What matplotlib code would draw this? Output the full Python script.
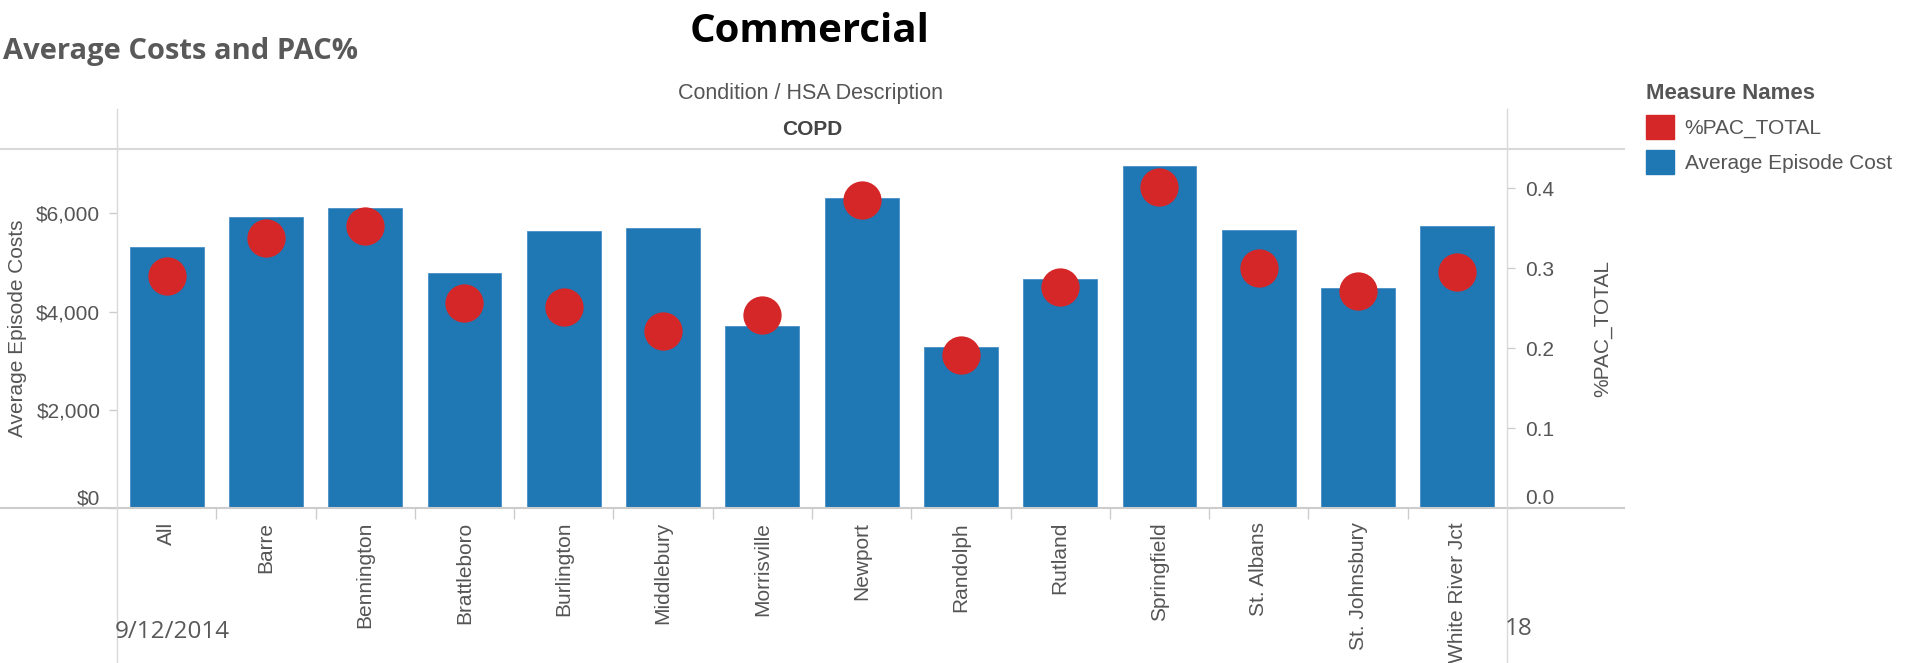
import numpy as np
import matplotlib
matplotlib.use('Agg')
import matplotlib.pyplot as plt
from matplotlib.lines import Line2D
from matplotlib.patches import Patch

plt.rcParams['font.family'] = ['Liberation Sans', 'DejaVu Sans']

# data
categories = ['All', 'Barre', 'Bennington', 'Brattleboro', 'Burlington', 'Middlebury',
              'Morrisville', 'Newport', 'Randolph', 'Rutland', 'Springfield',
              'St. Albans', 'St. Johnsbury', 'White River Jct']
avg_cost = [5305, 5918, 6116, 4792, 5639, 5708, 3713, 6311, 3272, 4670, 6956, 5668, 4479, 5749]
pac_total = [0.290, 0.338, 0.353, 0.256, 0.251, 0.221, 0.241, 0.385, 0.191, 0.277,
             0.402, 0.300, 0.272, 0.295]
cost_ticks = [0, 2000, 4000, 6000]
cost_tick_labels = ['$0', '$2,000', '$4,000', '$6,000']
pac_ticks = [0.0, 0.1, 0.2, 0.3, 0.4]
measure_names = ['%PAC_TOTAL', 'Average Episode Cost']

blue = '#1f77b4'
red = '#d62728'
grey_txt = '#555555'
line_c = '#d9d9d9'

W, H = 1915, 663
def fx(px):
    return px / W
def fy(py):
    return 1 - py / H

fig = plt.figure(figsize=(W / 100, H / 100), dpi=100)

ax = fig.add_axes([fx(117), fy(508), fx(1507) - fx(117), fy(149) - fy(508)])
x = np.arange(len(categories))
ax.bar(x, avg_cost, width=0.745, color=blue, edgecolor='#4a90c8', linewidth=0.6, zorder=2)
ax.set_xlim(-0.5, len(categories) - 0.5)
ax.set_ylim(0, 7310)
ax.set_yticks(cost_ticks)
ax.set_yticklabels(cost_tick_labels)
ax.set_xticks(x)
ax.set_xticklabels(categories, rotation=90, va='top', ha='center')
ax.set_xticks(np.arange(0.5, len(categories) - 0.5, 1), minor=True)
ax.tick_params(axis='y', length=6, color='#cccccc', width=1, labelsize=15,
               labelcolor=grey_txt, pad=6)
ax.tick_params(axis='x', which='major', length=0, pad=10, labelsize=15, labelcolor=grey_txt)
ax.tick_params(axis='x', which='minor', length=8, color='#cccccc', width=1)
ax.set_ylabel('Average Episode Costs', fontsize=15, color=grey_txt)
ax.yaxis.set_label_coords((18 - 117) / 1390, 0.5)
ax.yaxis.label.set_va('center')
for s in ax.spines.values():
    s.set_visible(False)
ax.get_yticklabels()[0].set_va('bottom')

ax2 = ax.twinx()
ax2.scatter(x, pac_total, s=760, color=red, linewidths=0, zorder=3)
ax2.set_ylim(0, 0.449)
ax2.set_yticks(pac_ticks)
ax2.set_yticklabels(['%.1f' % t for t in pac_ticks])
ax2.tick_params(axis='y', length=6, color='#cccccc', width=1, labelsize=15,
                labelcolor=grey_txt, pad=7)
ax2.set_ylabel('%PAC_TOTAL', fontsize=15, color=grey_txt, rotation=90)
ax2.yaxis.set_label_coords((1603 - 117) / 1390, 0.5)
ax2.yaxis.label.set_va('center')
for s in ax2.spines.values():
    s.set_visible(False)
ax2.get_yticklabels()[0].set_va('bottom')

# header / frame lines like the tableau sheet
def hline(y, x0, x1, c, lw):
    fig.add_artist(Line2D([fx(x0), fx(x1)], [fy(y), fy(y)], color=c, lw=lw,
                          transform=fig.transFigure))
def vline(xp, y0, y1, c, lw):
    fig.add_artist(Line2D([fx(xp), fx(xp)], [fy(y0), fy(y1)], color=c, lw=lw,
                          transform=fig.transFigure))

hline(149, 0, 1624, line_c, 1.5)
hline(508, 0, 1624, '#cccccc', 1.5)
vline(117, 109, 663, line_c, 1.0)
vline(1507, 109, 663, line_c, 1.0)

fig.text(fx(3), fy(51), 'Average Costs and PAC%', fontsize=21, fontweight='bold',
         family='Open Sans', color='#595959', ha='left', va='center')
fig.text(fx(810), fy(31), 'Commercial', fontsize=29, fontweight='bold',
         family='Open Sans', color='black', ha='center', va='center')
fig.text(fx(811), fy(93), 'Condition / HSA Description', fontsize=15.5,
         color=grey_txt, ha='center', va='center')
fig.text(fx(812), fy(129.5), 'COPD', fontsize=15, fontweight='bold',
         color='#444444', ha='center', va='center')
fig.text(fx(115), fy(632), '9/12/2014', fontsize=17.5, family='Open Sans',
         color='#595959', ha='left', va='center')
fig.text(fx(1505), fy(629), '18', fontsize=17.5, family='Open Sans',
         color='#595959', ha='left', va='center')

handles = [Patch(facecolor=red, edgecolor=red), Patch(facecolor=blue, edgecolor=blue)]
leg = fig.legend(handles, measure_names, title='Measure Names', loc='upper left',
                 bbox_to_anchor=(fx(1646), fy(83)), frameon=False, fontsize=15,
                 handlelength=1.35, handleheight=1.35, handletextpad=0.5,
                 labelspacing=0.55, borderpad=0, borderaxespad=0, alignment='left',
                 title_fontproperties={'weight': 'bold', 'size': 16})
leg.get_title().set_color(grey_txt)
for t in leg.get_texts():
    t.set_color(grey_txt)

fig.savefig('out.png', dpi=100)
